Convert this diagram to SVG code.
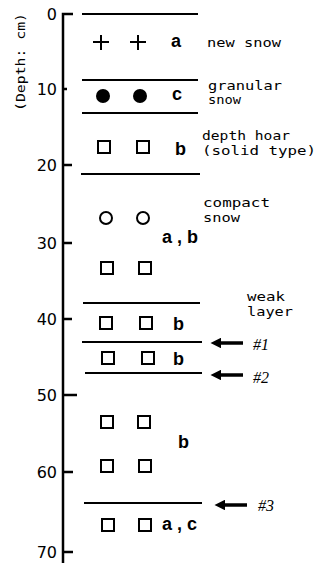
<svg xmlns="http://www.w3.org/2000/svg" width="322" height="563" viewBox="0 0 322 563">
<defs>
<style>
.ax{stroke:#000;stroke-width:2.5;fill:none}
.ln{stroke:#000;stroke-width:1.8;fill:none}
.sq{stroke:#000;stroke-width:2;fill:none}
.ci{stroke:#000;stroke-width:2;fill:none}
.lab{font-family:"DejaVu Sans Mono","Liberation Mono",monospace;font-size:12.5px;fill:#000}
.num{font-family:"DejaVu Sans","Liberation Sans",sans-serif;font-size:16px;fill:#000;text-anchor:end}
.bl{font-family:"Liberation Sans",Arial,sans-serif;font-weight:bold;font-size:18px;fill:#000}
.hs{font-family:"Liberation Serif","Times New Roman",serif;font-style:italic;font-size:16px;fill:#000}
.ar{stroke:#000;stroke-width:3.5;fill:none}
</style>
<marker id="ah" viewBox="0 0 10 10" refX="0" refY="5" markerWidth="4" markerHeight="3" orient="auto" markerUnits="strokeWidth">
<path d="M10,5 L0,0 L0,10 Z" fill="#000"/>
</marker>
<rect id="s" x="-6" y="-6" width="12" height="12"/>
</defs>
<rect width="322" height="563" fill="#fff"/>

<g id="axis">
<path class="ax" d="M63,563 V14 H73"/>
<path class="ax" d="M63,89 H67 M63,165 H72 M63,243 H72 M63,319 H72 M63,395 H77 M63,472 H73 M63,552 H73"/>
<text class="num" x="57" y="20">0</text>
<text class="num" x="57" y="95">10</text>
<text class="num" x="57" y="171">20</text>
<text class="num" x="57" y="249">30</text>
<text class="num" x="57" y="325">40</text>
<text class="num" x="57" y="401">50</text>
<text class="num" x="57" y="478">60</text>
<text class="num" x="57" y="558">70</text>
<text class="lab" transform="translate(25,62) rotate(-90)" text-anchor="middle" textLength="98" lengthAdjust="spacingAndGlyphs">(Depth: cm)</text>
</g>

<g id="layer-lines">
<path class="ln" d="M82,14 H198"/>
<path class="ln" d="M82,80 H198"/>
<path class="ln" d="M82,113 H198"/>
<path class="ln" d="M81,174 H200"/>
<path class="ln" d="M83,303 H200"/>
<path class="ln" d="M82,342 H202"/>
<path class="ln" d="M85,373 H202"/>
<path class="ln" d="M84,503 H202"/>
</g>

<g id="new-snow">
<path class="sq" d="M93,42 H109 M101,35 V50 M130,42 H146 M138,35 V50"/>
<text class="bl" x="171" y="47">a</text>
<text class="lab" x="207" y="47" textLength="74" lengthAdjust="spacingAndGlyphs">new snow</text>
</g>

<g id="granular-snow">
<circle cx="103" cy="96" r="7" fill="#000"/>
<circle cx="140" cy="96" r="7" fill="#000"/>
<text class="bl" x="172" y="100">c</text>
<text class="lab" x="208" y="90" textLength="74" lengthAdjust="spacingAndGlyphs">granular</text>
<text class="lab" x="208" y="104" textLength="33" lengthAdjust="spacingAndGlyphs">snow</text>
</g>

<g id="depth-hoar">
<use href="#s" class="sq" x="104" y="147"/>
<use href="#s" class="sq" x="143" y="147"/>
<text class="bl" x="175" y="155">b</text>
<text class="lab" x="202" y="140" textLength="88" lengthAdjust="spacingAndGlyphs">depth hoar</text>
<text class="lab" x="202" y="155" textLength="114" lengthAdjust="spacingAndGlyphs">(solid type)</text>
</g>

<g id="compact-snow">
<circle class="ci" cx="106" cy="218" r="6"/>
<circle class="ci" cx="143" cy="218" r="6"/>
<use href="#s" class="sq" x="107" y="268"/>
<use href="#s" class="sq" x="145" y="268"/>
<text class="bl" x="162" y="243" textLength="36">a,b</text>
<text class="lab" x="203" y="207" textLength="67" lengthAdjust="spacingAndGlyphs">compact</text>
<text class="lab" x="203" y="222" textLength="37" lengthAdjust="spacingAndGlyphs">snow</text>
</g>

<g id="weak-layer">
<use href="#s" class="sq" x="106" y="323"/>
<use href="#s" class="sq" x="146" y="323"/>
<text class="bl" x="173" y="330">b</text>
<text class="lab" x="247" y="301" textLength="38" lengthAdjust="spacingAndGlyphs">weak</text>
<text class="lab" x="247" y="316" textLength="46" lengthAdjust="spacingAndGlyphs">layer</text>
</g>

<g id="layer-1-2">
<use href="#s" class="sq" x="108" y="358"/>
<use href="#s" class="sq" x="148" y="358"/>
<text class="bl" x="173" y="365">b</text>
</g>

<g id="layer-b">
<use href="#s" class="sq" x="107" y="422"/>
<use href="#s" class="sq" x="144" y="422"/>
<use href="#s" class="sq" x="107" y="466"/>
<use href="#s" class="sq" x="145" y="466"/>
<text class="bl" x="178" y="448">b</text>
</g>

<g id="layer-ac">
<use href="#s" class="sq" x="108" y="525"/>
<use href="#s" class="sq" x="145" y="525"/>
<text class="bl" x="162" y="530" textLength="35">a,c</text>
</g>

<g id="connectors">
<path class="ar" d="M243,343 H221" marker-end="url(#ah)"/>
<path class="ar" d="M243,375 H221" marker-end="url(#ah)"/>
<path class="ar" d="M247,505 H225" marker-end="url(#ah)"/>
</g>

<g id="markers-labels">
<text class="hs" x="253" y="350">#1</text>
<text class="hs" x="253" y="383">#2</text>
<text class="hs" x="258" y="511">#3</text>
</g>
</svg>
